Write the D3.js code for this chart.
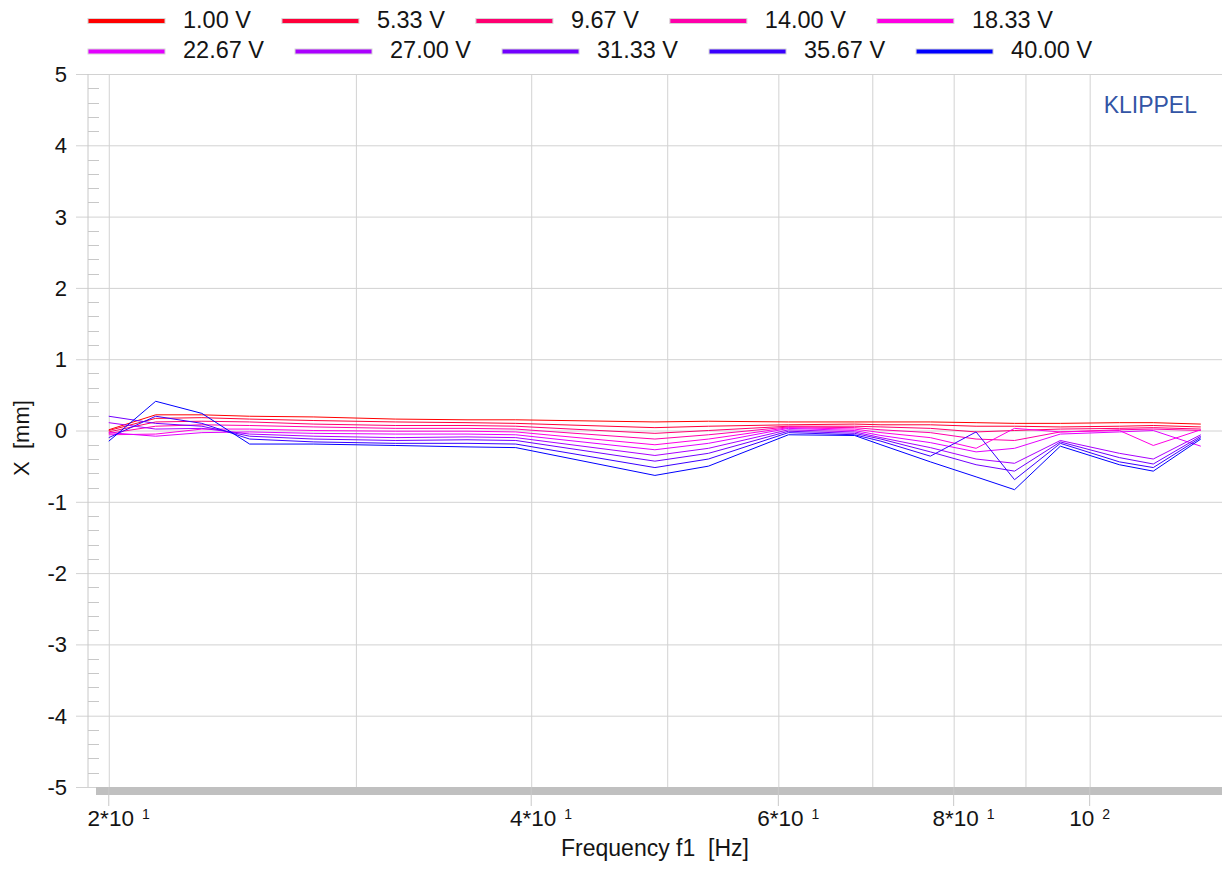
<!DOCTYPE html>
<html><head><meta charset="utf-8">
<script src="https://cdn.jsdelivr.net/npm/d3@7"></script>
<style>
body{margin:0;background:#fff}
svg{display:block}
text{font-family:"Liberation Sans", Arial, sans-serif;fill:#141414}
</style></head>
<body><svg id="c" width="1225" height="869"></svg>
<script>
// ---------- data ----------
const freqs = [20, 21.6, 23.3, 25.2, 28, 32, 36, 39, 49, 53.5, 61, 68, 71, 77, 83, 88.4, 95.3, 105, 111, 120];
const seriesLabels = ["1.00 V","5.33 V","9.67 V","14.00 V","18.33 V","22.67 V","27.00 V","31.33 V","35.67 V","40.00 V"];
const seriesColors = ["#ff0000","#ff0039","#ff0071","#ff00aa","#ff00e3","#e300ff","#aa00ff","#7100ff","#3900ff","#0000ff"];
const v1_00  = [0.01, 0.22, 0.22, 0.20, 0.19, 0.16, 0.15, 0.15, 0.12, 0.13, 0.12, 0.12, 0.12, 0.12, 0.11, 0.10, 0.10, 0.11, 0.11, 0.09];
const v5_33  = [0.00, 0.17, 0.18, 0.16, 0.14, 0.12, 0.11, 0.10, 0.04, 0.06, 0.08, 0.09, 0.08, 0.08, 0.06, 0.06, 0.05, 0.06, 0.07, 0.05];
const v9_67  = [-0.02, 0.12, 0.13, 0.12, 0.09, 0.07, 0.07, 0.06, -0.04, 0.00, 0.06, 0.06, 0.05, 0.03, -0.02, 0.00, 0.02, 0.03, 0.04, 0.02];
const v14_00 = [-0.04, 0.06, 0.08, 0.07, 0.05, 0.03, 0.03, 0.02, -0.12, -0.06, 0.05, 0.04, 0.01, -0.03, -0.12, -0.14, -0.02, 0.01, 0.02, 0.00];
const v18_33 = [-0.06, -0.05, 0.02, 0.02, 0.00, -0.01, -0.01, -0.02, -0.20, -0.12, 0.04, 0.02, -0.03, -0.10, -0.25, 0.03, -0.02, 0.00, -0.21, 0.01];
const v22_67 = [-0.03, -0.08, -0.03, -0.02, -0.04, -0.05, -0.05, -0.06, -0.27, -0.18, 0.03, 0.00, -0.07, -0.17, -0.30, -0.25, -0.05, -0.02, 0.00, -0.22];
const v27_00 = [0.11, 0.02, 0.03, -0.05, -0.08, -0.10, -0.09, -0.10, -0.35, -0.25, 0.01, -0.02, -0.10, -0.24, -0.40, -0.46, -0.14, -0.32, -0.40, -0.06];
const v31_33 = [0.20, 0.10, 0.06, -0.08, -0.12, -0.14, -0.13, -0.14, -0.43, -0.32, -0.01, -0.04, -0.12, -0.30, -0.48, -0.57, -0.16, -0.38, -0.47, -0.08];
const v35_67 = [-0.10, 0.20, 0.10, -0.12, -0.16, -0.18, -0.18, -0.19, -0.52, -0.40, -0.03, -0.06, -0.15, -0.36, -0.02, -0.69, -0.18, -0.44, -0.52, -0.10];
const v40_00 = [-0.15, 0.41, 0.24, -0.19, -0.19, -0.21, -0.23, -0.24, -0.63, -0.50, -0.06, -0.07, -0.20, -0.44, -0.65, -0.83, -0.22, -0.48, -0.57, -0.12];
const seriesValues = [v1_00, v5_33, v9_67, v14_00, v18_33, v22_67, v27_00, v31_33, v35_67, v40_00];

const yTicks = [-5,-4,-3,-2,-1,0,1,2,3,4,5];
const xGrid = [20,30,40,50,60,70,80,90,100];
const xTickValues = [20,40,60,80,100];
const xTickMain = ["2*10","4*10","6*10","8*10","10"];
const xTickSup = ["1","1","1","1","2"];

// ---------- layout ----------
const svg = d3.select("#c");
const L = 88, R = 1222, T = 74, B = 787;
const x = d3.scaleLog().domain([19.33, 124.25]).range([L, R]);
const y = d3.scaleLinear().domain([-5, 5]).range([B, T]);
const gridCol = "#d2d2d2";

// horizontal grid + y labels (axis)
const yAx = svg.append("g").attr("transform", `translate(76,0)`)
  .call(d3.axisLeft(y).tickValues(yTicks).tickSize(-(R - 76)).tickPadding(9).tickFormat(d => String(d)));
yAx.select(".domain").remove();
yAx.selectAll(".tick line").attr("stroke", gridCol);
yAx.selectAll(".tick text").attr("font-size", 22).attr("fill", "#141414").attr("dy", "0.34em");

// vertical grid (axis)
const xAx = svg.append("g").attr("transform", `translate(0,${B})`)
  .call(d3.axisBottom(x).tickValues(xGrid).tickSize(-(B - T)).tickFormat(""));
xAx.select(".domain").remove();
xAx.selectAll(".tick line").attr("stroke", gridCol);

// frame line and minor ticks
svg.append("line").attr("x1", L).attr("x2", L).attr("y1", T).attr("y2", B).attr("stroke", "#c8c8c8");
const minor = d3.range(-5, 5.0001, 0.2).filter(v => Math.abs(v - Math.round(v)) > 1e-6);
svg.append("g").selectAll("line").data(minor).join("line")
  .attr("x1", L).attr("x2", L + 11).attr("y1", d => Math.round(y(d)) + 0.5).attr("y2", d => Math.round(y(d)) + 0.5)
  .attr("stroke", "#c8c8c8");

// bottom band
svg.append("rect").attr("x", 96).attr("y", B).attr("width", R - 96).attr("height", 8).attr("fill", "#c0c0c0");

// labeled tick marks
svg.append("g").selectAll("line").data(xTickValues).join("line")
  .attr("x1", d => x(d)).attr("x2", d => x(d)).attr("y1", B).attr("y2", 806)
  .attr("stroke", "#c8c8c8");

// x tick labels
const xl = svg.append("g").selectAll("text").data(xTickValues).join("text")
  .attr("y", 826).attr("font-size", 22.5);
xl.append("tspan").attr("class", "m").text((d, i) => xTickMain[i]);
xl.append("tspan").attr("font-size", 14).attr("dx", 8).attr("dy", -7).text((d, i) => xTickSup[i]);
xl.each(function(d, i) {
  const t = d3.select(this);
  const mw = t.select(".m").node().getComputedTextLength();
  const tw = this.getBBox().width;
  const x0 = xTickMain[i].includes("*") ? x(d) - mw / 2 + 2 : x(d) - tw / 2;
  t.attr("x", x0);
});

// data lines
const line = d3.line().x(d => x(d[0])).y(d => y(d[1]));
svg.append("g").selectAll("path").data(seriesValues).join("path")
  .attr("d", vals => line(vals.map((v, j) => [freqs[j], v])))
  .attr("fill", "none")
  .attr("stroke", (d, i) => seriesColors[i])
  .attr("stroke-width", 1)
  .attr("stroke-linejoin", "round");

// axis titles
svg.append("text").attr("x", 655).attr("y", 856).attr("text-anchor", "middle")
  .attr("font-size", 23).style("white-space", "pre").text("Frequency f1  [Hz]");
svg.append("text").attr("transform", "translate(29,438) rotate(-90)").attr("text-anchor", "middle")
  .attr("font-size", 22).style("white-space", "pre").text("X  [mm]");

// KLIPPEL
svg.append("text").attr("x", 1197).attr("y", 113).attr("text-anchor", "end")
  .attr("font-size", 23).style("fill", "#3355a5").text("KLIPPEL");

// legend (flow layout)
const lg = svg.append("g");
let lx = 88;
seriesLabels.forEach((lab, i) => {
  if (i === 5) lx = 88;
  const row = i < 5 ? 0 : 1;
  const ly = row === 0 ? 21 : 51.5;
  lg.append("rect").attr("x", lx).attr("y", ly - 2.5).attr("width", 77).attr("height", 5)
    .attr("fill", seriesColors[i]).attr("stroke", "#d6d6d6").attr("stroke-width", 1);
  const t = lg.append("text").attr("x", lx + 95).attr("y", ly + 6.5).attr("font-size", 23.5).text(lab);
  lx += 77 + 18 + t.node().getComputedTextLength() + 31;
});
</script></body></html>
